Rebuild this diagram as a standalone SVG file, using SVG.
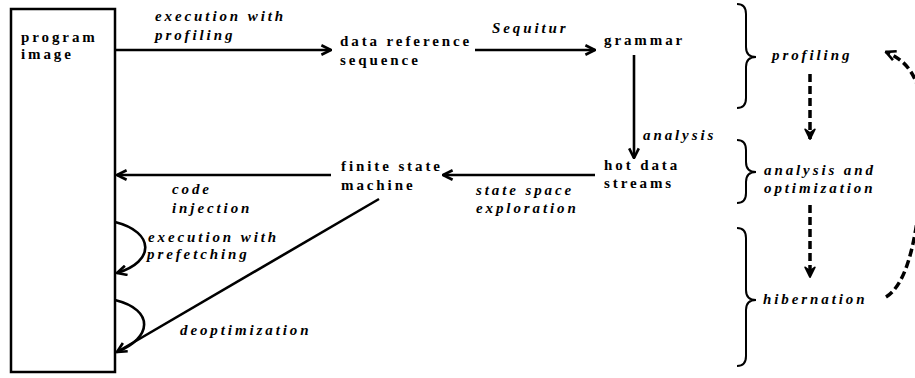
<svg xmlns="http://www.w3.org/2000/svg" width="915" height="378" viewBox="0 0 915 378">
<style>
.t{font-family:"Liberation Serif","Times New Roman",serif;font-size:15px;font-weight:bold;letter-spacing:2.9px;fill:#000}
.i{font-style:italic}
.ln{fill:none;stroke:#000;stroke-width:2.6}
.ds{fill:none;stroke:#000;stroke-width:3.5;stroke-dasharray:8 4}
.br{fill:none;stroke:#000;stroke-width:2}
</style>
<defs>
<marker id="ah" viewBox="0 0 10 10" markerUnits="userSpaceOnUse" markerWidth="12" markerHeight="12" refX="9" refY="5" orient="auto">
<path d="M1,1 L9,5 L1,9" fill="none" stroke="#000" stroke-width="2.2"/>
</marker>
<marker id="dh" viewBox="0 0 10 10" markerUnits="userSpaceOnUse" markerWidth="12" markerHeight="12" refX="9" refY="5" orient="auto">
<path d="M1,1 L9,5 L1,9 L4,5 Z" fill="#000" stroke="#000" stroke-width="1.5" stroke-linejoin="round"/>
</marker>
</defs>
<g id="program-image">
<rect x="11" y="9" width="104" height="363" fill="#fff" stroke="#000" stroke-width="2.5"/>
<text class="t" x="21" y="42">program</text>
<text class="t" x="21" y="59">image</text>
</g>
<g id="data-reference-sequence">
<text class="t" x="340" y="46">data reference</text>
<text class="t" x="340" y="65">sequence</text>
</g>
<g id="grammar">
<text class="t" x="604" y="45">grammar</text>
</g>
<g id="hot-data-streams">
<text class="t" x="604" y="170">hot data</text>
<text class="t" x="604" y="188">streams</text>
</g>
<g id="finite-state-machine">
<text class="t" x="341" y="171">finite state</text>
<text class="t" x="341" y="190">machine</text>
</g>
<g id="profiling">
<path class="br" d="M737 4 Q746 4 746 14 L746 47 Q746 57 756 57 Q746 57 746 67 L746 98 Q746 108 737 108"/>
<text class="t i" x="772" y="60">profiling</text>
</g>
<g id="analysis-optimization">
<path class="br" d="M737 140 Q746 140 746 150 L746 162 Q746 172 756 172 Q746 172 746 182 L746 193 Q746 203 737 203"/>
<text class="t i" x="764" y="175">analysis and</text>
<text class="t i" x="764" y="193">optimization</text>
</g>
<g id="hibernation">
<path class="br" d="M737 228 Q746 228 746 238 L746 290 Q746 300 756 300 Q746 300 746 310 L746 356 Q746 366 737 366"/>
<text class="t i" x="763" y="304">hibernation</text>
</g>
<g id="connectors">
<line class="ln" x1="115" y1="50" x2="331" y2="50" marker-end="url(#ah)"/>
<line class="ln" x1="475" y1="50" x2="595" y2="50" marker-end="url(#ah)"/>
<line class="ln" x1="634" y1="55" x2="634" y2="158" marker-end="url(#ah)"/>
<line class="ln" x1="595" y1="175" x2="443" y2="175" marker-end="url(#ah)"/>
<line class="ln" x1="331" y1="175" x2="117" y2="175" marker-end="url(#ah)"/>
<line class="ln" x1="379" y1="199" x2="117" y2="352" marker-end="url(#ah)"/>
<path class="ln" d="M115 222 C155 232 155 262 117 273" marker-end="url(#ah)"/>
<path class="ln" d="M115 300 C155 310 152 338 117 352"/>
<path class="ds" d="M810 74 L810 139" marker-end="url(#dh)"/>
<path class="ds" d="M810 205 L810 277" marker-end="url(#dh)"/>
<path class="ds" d="M886 297 C905 285 913 250 918 215 L924 110 C917 72 905 60 886 52" marker-end="url(#ah)"/>
<text class="t i" x="155" y="21">execution with</text>
<text class="t i" x="155" y="40">profiling</text>
<text class="t i" x="492" y="33">Sequitur</text>
<text class="t i" x="643" y="140">analysis</text>
<text class="t i" x="476" y="195">state space</text>
<text class="t i" x="476" y="213">exploration</text>
<text class="t i" x="172" y="194">code</text>
<text class="t i" x="172" y="213">injection</text>
<text class="t i" x="148" y="242">execution with</text>
<text class="t i" x="147" y="259">prefetching</text>
<text class="t i" x="180" y="335">deoptimization</text>
</g>
</svg>
